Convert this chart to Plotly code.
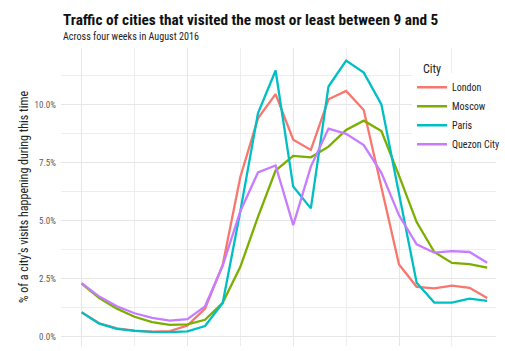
import plotly.graph_objects as go

hours = list(range(24))
cities = ["London", "Moscow", "Paris", "Quezon City"]
london = [1.04, 0.57, 0.35, 0.25, 0.21, 0.23, 0.47, 1.20, 3.08, 6.87, 9.40, 10.44,
          8.48, 8.04, 10.22, 10.58, 9.76, 6.45, 3.10, 2.14, 2.07, 2.19, 2.10, 1.66]
moscow = [2.28, 1.66, 1.20, 0.85, 0.62, 0.50, 0.52, 0.72, 1.45, 3.00, 5.15, 7.15,
          7.78, 7.72, 8.18, 8.90, 9.30, 8.85, 6.93, 4.93, 3.64, 3.17, 3.12, 2.97]
paris = [1.04, 0.55, 0.33, 0.24, 0.20, 0.19, 0.22, 0.45, 1.44, 5.40, 9.62, 11.46,
         6.46, 5.52, 10.77, 11.89, 11.37, 10.00, 6.15, 2.32, 1.46, 1.46, 1.63, 1.53]
quezon = [2.30, 1.72, 1.30, 1.00, 0.80, 0.68, 0.75, 1.30, 3.05, 5.40, 7.07, 7.37,
          4.80, 7.32, 8.96, 8.73, 8.25, 7.05, 5.22, 3.97, 3.61, 3.68, 3.64, 3.18]
series = [london, moscow, paris, quezon]
colors = ["#F8766D", "#7CAE00", "#00BFC4", "#C77CFF"]

y_ticks = [0, 2.5, 5, 7.5, 10]
y_tick_labels = ["0.0%", "2.5%", "5.0%", "7.5%", "10.0%"]

FONT = "Roboto Condensed, Liberation Sans Narrow, DejaVu Sans Condensed, Roboto, sans-serif"

fig = go.Figure()
for name, vals, col in zip(cities, series, colors):
    fig.add_trace(go.Scatter(x=hours, y=vals, mode="lines", name=name,
                             line=dict(color=col, width=2.3)))

fig.update_layout(
    width=505, height=351,
    margin=dict(l=61, r=0, t=48, b=5),
    paper_bgcolor="white", plot_bgcolor="white",
    font=dict(family=FONT, color="#222222"),
    showlegend=True,
    legend=dict(
        x=0.807, xanchor="left", y=0.917, yanchor="top",
        bgcolor="white", font=dict(size=10, color="#222222"),
        tracegroupgap=0, itemwidth=30,
    ),
    xaxis=dict(
        range=[-1.17, 23.5], showticklabels=False, ticks="",
        tickmode="array", tickvals=[0, 6, 12, 18],
        showgrid=True, gridcolor="#E6E6E6", gridwidth=1,
        minor=dict(tickmode="array", tickvals=[3, 9, 15, 21], showgrid=True,
                   gridcolor="#EDEDED", gridwidth=1),
        zeroline=False, showline=False,
    ),
    yaxis=dict(
        range=[-0.41, 12.43], tickmode="array", tickvals=y_ticks,
        ticktext=y_tick_labels, ticks="", ticklabelstandoff=4,
        tickfont=dict(size=9, color="#5a5a5a"),
        showgrid=True, gridcolor="#E6E6E6", gridwidth=1,
        minor=dict(tickmode="array", tickvals=[1.25, 3.75, 6.25, 8.75, 11.25],
                   showgrid=True, gridcolor="#EDEDED", gridwidth=1),
        zeroline=False, showline=False,
        title=dict(text="% of a city's visits happening during this time",
                   font=dict(size=12, color="#222222"), standoff=3),
    ),
    annotations=[
        dict(text="<b>Traffic of cities that visited the most or least between 9 and 5</b>",
             xref="paper", yref="paper", x=0, y=1.094, xanchor="left", yanchor="middle",
             showarrow=False, font=dict(size=15.3, color="#111111")),
        dict(text="Across four weeks in August 2016",
             xref="paper", yref="paper", x=0, y=1.04, xanchor="left", yanchor="middle",
             showarrow=False, font=dict(size=10.1, color="#222222")),
        dict(text="City", xref="paper", yref="paper",
             x=(428 - 61) / 444, y=1 - (69 - 48) / 298, xanchor="left", yanchor="middle",
             showarrow=False, font=dict(size=12, color="#222222")),
    ],
)

fig.write_html("out.html")
